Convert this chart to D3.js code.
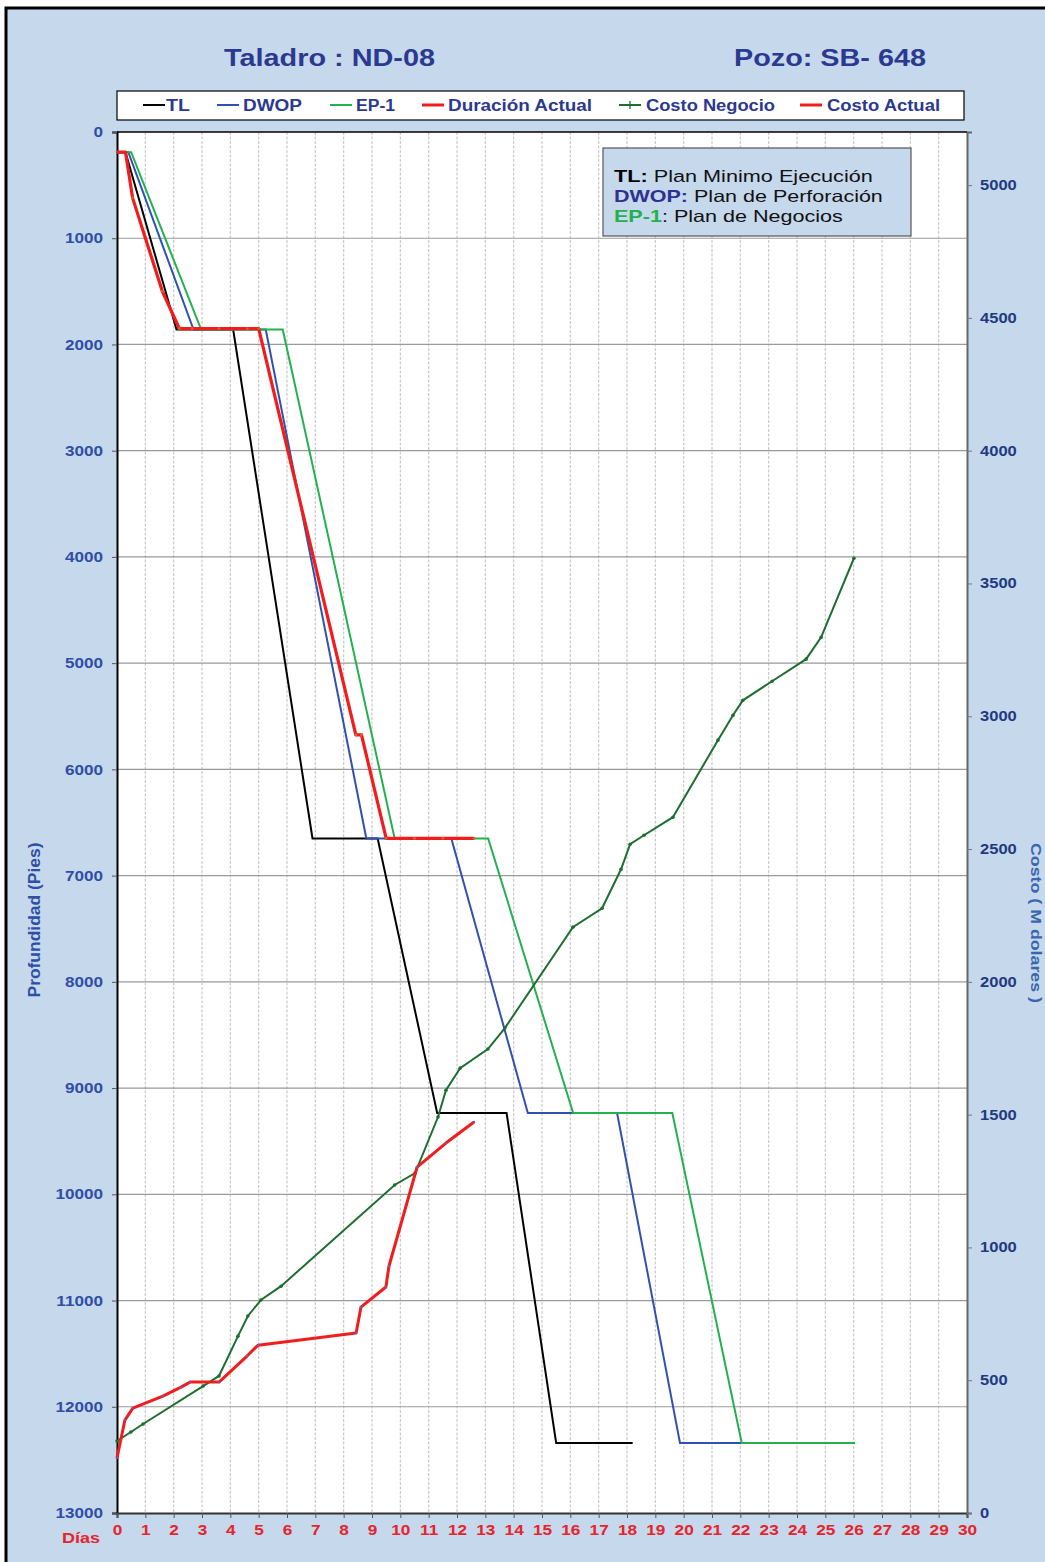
<!DOCTYPE html>
<html><head><meta charset="utf-8">
<script src="https://cdn.jsdelivr.net/npm/d3@7"></script>
<style>
html,body{margin:0;padding:0;background:#fff;}
svg{display:block;}
text{font-family:"Liberation Sans",Arial,sans-serif;}
</style></head>
<body>
<svg id="chart" width="1045" height="1562"></svg>
<script>
// ---------- DATA ----------
const dayTicks = d3.range(0, 31);
const depthTicks = d3.range(0, 13001, 1000);
const costTicks = d3.range(0, 5001, 500);

const tlDays   = [0, 0.3, 2.1, 4.1, 6.9, 9.2, 11.3, 13.75, 15.5, 18.2];
const tlDepth  = [190, 190, 1860, 1860, 6650, 6650, 9235, 9235, 12340, 12340];

const dwopDays  = [0, 0.4, 2.7, 5.25, 8.8, 11.8, 14.5, 17.65, 19.87, 22.05];
const dwopDepth = [190, 190, 1860, 1860, 6650, 6650, 9235, 9235, 12340, 12340];

const ep1Days  = [0, 0.5, 2.97, 5.85, 9.8, 13.1, 16.1, 19.6, 22.05, 26.05];
const ep1Depth = [190, 190, 1860, 1860, 6650, 6650, 9235, 9235, 12340, 12340];

const durDays  = [0, 0.3, 0.55, 1.6, 2.2, 2.65, 3.6, 4.6, 5.0, 8.43, 8.63, 9.5, 10.5, 11.5, 12.6];
const durDepth = [190, 190, 620, 1500, 1850, 1850, 1850, 1850, 1850, 5676, 5676, 6650, 6650, 6650, 6650];

const negDays = [0, 0.49, 0.92, 3.04, 3.6, 4.27, 4.62, 5.08, 5.79, 9.8, 10.52, 11.33, 11.61, 12.11, 13.09, 13.69,
                 16.09, 17.12, 17.79, 18.11, 18.6, 19.62, 21.21, 21.74, 22.09, 23.12, 24.32, 24.85, 26.01];
const negCost = [271, 305, 335, 478, 516, 666, 742, 802, 854, 1235, 1280, 1491, 1592, 1675, 1747, 1826,
                 2206, 2277, 2424, 2518, 2552, 2620, 2910, 3004, 3060, 3132, 3215, 3297, 3595];

const actDays = [0, 0.28, 0.56, 1.62, 2.26, 2.58, 3.6, 4.59, 4.98, 8.44, 8.61, 9.49, 9.6, 10.59, 11.61, 12.6];
const actCost = [207, 350, 395, 440, 474, 493, 493, 591, 632, 678, 775, 851, 930, 1302, 1393, 1472];

const legendLabels = ["TL", "DWOP", "EP-1", "Duración Actual", "Costo Negocio", "Costo Actual"];

// ---------- SETUP ----------
const svg = d3.select("#chart");
const L = 117, R = 967, T = 132, B = 1513;
const x = d3.scaleLinear().domain([0, 30]).range([L, R]);
const yD = d3.scaleLinear().domain([0, 13000]).range([T, B]);
const yC = d3.scaleLinear().domain([0, 5200]).range([B, T]);

function stretch(sel, k) {
  sel.each(function () {
    const w = this.getComputedTextLength();
    d3.select(this).attr("textLength", w * k).attr("lengthAdjust", "spacingAndGlyphs");
  });
}

// background frame
svg.append("rect").attr("x", 6).attr("y", 8).attr("width", 1045).attr("height", 1562)
  .attr("fill", "#c5d8ec").attr("stroke", "#000").attr("stroke-width", 3);

// plot area
svg.append("rect").attr("x", L).attr("y", T).attr("width", R - L).attr("height", B - T).attr("fill", "#fff");

// vertical grid
svg.append("g").selectAll("line").data(dayTicks.slice(1, 30)).join("line")
  .attr("x1", d => x(d)).attr("x2", d => x(d)).attr("y1", T).attr("y2", B)
  .attr("stroke", "#cacaca").attr("stroke-width", 1.2).attr("stroke-dasharray", "3,1.5");
// horizontal grid
svg.append("g").selectAll("line").data(depthTicks.slice(1, 13)).join("line")
  .attr("x1", L).attr("x2", R).attr("y1", d => yD(d)).attr("y2", d => yD(d))
  .attr("stroke", "#9a9a9a").attr("stroke-width", 1.2);

// ---------- AXES ----------
const gl = svg.append("g").attr("transform", `translate(${L},0)`)
  .call(d3.axisLeft(yD).tickValues(depthTicks).tickFormat(d3.format("d")).tickSize(5).tickPadding(9));
gl.select(".domain").attr("stroke", "#000").attr("stroke-width", 2);
gl.selectAll(".tick line").attr("stroke", "#555");
gl.selectAll("text").attr("fill", "#2f4ea6").attr("font-size", 14.5).attr("font-weight", "bold")
  .attr("font-family", "Liberation Sans, Arial, sans-serif");
stretch(gl.selectAll("text"), 1.18);

const gb = svg.append("g").attr("transform", `translate(0,${B})`)
  .call(d3.axisBottom(x).tickValues(dayTicks).tickFormat(d3.format("d")).tickSize(5).tickPadding(6));
gb.select(".domain").attr("stroke", "#333").attr("stroke-width", 2);
gb.selectAll(".tick line").attr("stroke", "#555");
gb.selectAll("text").attr("fill", "#e8232b").attr("font-size", 15).attr("font-weight", "bold")
  .attr("font-family", "Liberation Sans, Arial, sans-serif");
stretch(gb.selectAll("text"), 1.15);

const gr = svg.append("g").attr("transform", `translate(${R},0)`)
  .call(d3.axisRight(yC).tickValues(costTicks).tickFormat(d3.format("d")).tickSize(5).tickPadding(8));
gr.select(".domain").attr("stroke", "#666").attr("stroke-width", 2);
gr.selectAll(".tick line").attr("stroke", "#777");
gr.selectAll("text").attr("fill", "#1f3a80").attr("font-size", 14).attr("font-weight", "bold")
  .attr("font-family", "Liberation Sans, Arial, sans-serif");
stretch(gr.selectAll("text"), 1.18);

// top border
svg.append("line").attr("x1", L).attr("x2", R).attr("y1", T).attr("y2", T).attr("stroke", "#000").attr("stroke-width", 1.5);

// ---------- LINES ----------
const lineD = d3.line().x(d => x(d[0])).y(d => yD(d[1]));
const lineC = d3.line().x(d => x(d[0])).y(d => yC(d[1]));
const zip = (a, b) => a.map((v, i) => [v, b[i]]);

const g = svg.append("g");
g.append("path").datum(zip(tlDays, tlDepth)).attr("d", lineD).attr("fill", "none").attr("stroke", "#000").attr("stroke-width", 2);
g.append("path").datum(zip(dwopDays, dwopDepth)).attr("d", lineD).attr("fill", "none").attr("stroke", "#2f52b0").attr("stroke-width", 2);
g.append("path").datum(zip(ep1Days, ep1Depth)).attr("d", lineD).attr("fill", "none").attr("stroke", "#22b14c").attr("stroke-width", 2);
g.append("path").datum(zip(negDays, negCost)).attr("d", lineC).attr("fill", "none").attr("stroke", "#1e6e30").attr("stroke-width", 2);
g.selectAll(".nm").data(zip(negDays, negCost)).join("circle").attr("class", "nm")
  .attr("cx", d => x(d[0])).attr("cy", d => yC(d[1])).attr("r", 1.8).attr("fill", "#1e6e30");
g.append("path").datum(zip(durDays, durDepth)).attr("d", lineD).attr("fill", "none").attr("stroke", "#f21c1c").attr("stroke-width", 3.2).attr("stroke-linejoin", "round");
g.selectAll(".dm").data(zip(durDays, durDepth).slice(2)).join("circle").attr("class", "dm")
  .attr("cx", d => x(d[0])).attr("cy", d => yD(d[1])).attr("r", 1.4).attr("fill", "#c46a2a");
g.append("path").datum(zip(actDays, actCost)).attr("d", lineC).attr("fill", "none").attr("stroke", "#f21c1c").attr("stroke-width", 3).attr("stroke-linejoin", "round");
g.selectAll(".am").data(zip(actDays, actCost)).join("circle").attr("class", "am")
  .attr("cx", d => x(d[0])).attr("cy", d => yC(d[1])).attr("r", 1.3).attr("fill", "#7a5aa0");

// ---------- TITLES ----------
svg.append("text").attr("x", 329.5).attr("y", 66).attr("text-anchor", "middle")
  .attr("font-size", 23).attr("font-weight", "bold").attr("fill", "#2b3990")
  .attr("textLength", 211).attr("lengthAdjust", "spacingAndGlyphs").text("Taladro : ND-08");
svg.append("text").attr("x", 830).attr("y", 66).attr("text-anchor", "middle")
  .attr("font-size", 23).attr("font-weight", "bold").attr("fill", "#2b3990")
  .attr("textLength", 192).attr("lengthAdjust", "spacingAndGlyphs").text("Pozo: SB- 648");

// ---------- LEGEND ----------
svg.append("rect").attr("x", 117).attr("y", 91).attr("width", 847).attr("height", 29)
  .attr("fill", "#fff").attr("stroke", "#000").attr("stroke-width", 1.2);
const legColors = ["#000", "#2f52b0", "#22b14c", "#f21c1c", "#1e6e30", "#f21c1c"];
const legLineX = [143, 217, 330, 422, 619, 800];
const legTextX = [166, 243, 356, 448, 646, 827];
const legTextW = [24, 59, 39, 144, 129, 113];
const legWidth = [2, 2, 2, 3, 2, 3];
const lg = svg.append("g");
legendLabels.forEach((lab, i) => {
  lg.append("line").attr("x1", legLineX[i]).attr("x2", legLineX[i] + 22).attr("y1", 105).attr("y2", 105)
    .attr("stroke", legColors[i]).attr("stroke-width", legWidth[i]);
  if (i === 4) lg.append("path").attr("d", `M${legLineX[i] + 11},101v8M${legLineX[i] + 8},105h6`).attr("stroke", legColors[i]).attr("stroke-width", 1.3);
  lg.append("text").attr("x", legTextX[i]).attr("y", 110.5).attr("font-size", 16).attr("font-weight", "bold")
    .attr("fill", "#2b3990").attr("textLength", legTextW[i]).attr("lengthAdjust", "spacingAndGlyphs").text(lab);
});

// ---------- NOTE BOX ----------
svg.append("rect").attr("x", 603).attr("y", 148).attr("width", 308).attr("height", 88)
  .attr("fill", "#c5d8ec").attr("stroke", "#555").attr("stroke-width", 1.2);
const notes = [
  {b: "TL:", bc: "#000", r: " Plan Minimo Ejecución", w: 259, y: 181.5},
  {b: "DWOP:", bc: "#2e3192", r: " Plan de Perforación", w: 269, y: 202},
  {b: "EP-1", bc: "#22b14c", r: ": Plan de Negocios", w: 229, y: 222}
];
notes.forEach(n => {
  const gg = svg.append("g");
  const t = gg.append("text").attr("x", 0).attr("y", 0).attr("font-size", 16.5).attr("fill", "#111");
  t.append("tspan").attr("font-weight", "bold").attr("fill", n.bc).text(n.b);
  t.append("tspan").text(n.r);
  const w = t.node().getComputedTextLength();
  gg.attr("transform", `translate(614,${n.y}) scale(${n.w / w},1)`);
});

// ---------- AXIS TITLES ----------
svg.append("text").attr("transform", "translate(40,920) rotate(-90)").attr("text-anchor", "middle")
  .attr("font-size", 16.5).attr("font-weight", "bold").attr("fill", "#2f4ea6")
  .attr("textLength", 155).attr("lengthAdjust", "spacingAndGlyphs").text("Profundidad (Pies)");
svg.append("text").attr("transform", "translate(1031,843) rotate(90)").attr("text-anchor", "start")
  .attr("font-size", 15).attr("font-weight", "bold").attr("fill", "#3a66ae")
  .attr("textLength", 160).attr("lengthAdjust", "spacingAndGlyphs").text("Costo ( M dolares )");
svg.append("text").attr("x", 81).attr("y", 1542.5).attr("text-anchor", "middle")
  .attr("font-size", 15).attr("font-weight", "bold").attr("fill", "#e8232b")
  .attr("textLength", 38).attr("lengthAdjust", "spacingAndGlyphs").text("Días");
</script>
</body></html>
